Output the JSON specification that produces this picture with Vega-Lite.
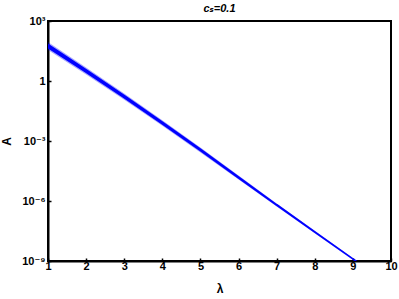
{
  "$schema": "https://vega.github.io/schema/vega-lite/v6.json",
  "autosize": {"type": "none"},
  "padding": {"left": 48, "top": 21, "right": 8, "bottom": 38},
  "width": 343,
  "height": 240,
  "background": "white",
  "title": {
    "text": "cₛ=0.1",
    "font": "Liberation Sans, DejaVu Sans",
    "fontSize": 11,
    "fontWeight": "bold",
    "fontStyle": "italic",
    "color": "black",
    "anchor": "middle",
    "offset": 2,
    "dy": 1
  },
  "config": {
    "view": {"stroke": "black", "strokeWidth": 2},
    "axis": {
      "labelFont": "Liberation Sans, DejaVu Sans",
      "labelFontWeight": "bold",
      "labelFontSize": 11,
      "labelColor": "black",
      "titleFont": "Liberation Sans, DejaVu Sans",
      "titleFontWeight": "bold",
      "titleFontSize": 12,
      "titleColor": "black",
      "domainColor": "black",
      "domainWidth": 2,
      "tickColor": "black",
      "tickSize": -3,
      "tickWidth": 1.5,
      "grid": false
    }
  },
  "data": {
    "values": [
      {"lam": 1, "A": 56.2, "hi": 89.1, "lo": 35.5},
      {"lam": 2, "A": 3.16, "hi": 4.79, "lo": 2.09},
      {"lam": 3, "A": 0.166, "hi": 0.24, "lo": 0.115},
      {"lam": 4, "A": 0.00794, "hi": 0.01096, "lo": 0.00575},
      {"lam": 5, "A": 0.000355, "hi": 0.000468, "lo": 0.000269},
      {"lam": 6, "A": 1.51e-5, "hi": 1.905e-5, "lo": 1.202e-5},
      {"lam": 7, "A": 6.31e-7, "hi": 7.59e-7, "lo": 5.25e-7},
      {"lam": 8, "A": 2.82e-8, "hi": 3.24e-8, "lo": 2.45e-8},
      {"lam": 9, "A": 1.26e-9, "hi": 1.41e-9, "lo": 1.12e-9},
      {"lam": 9.08, "A": 1e-9, "hi": 1.1e-9, "lo": 1e-9}
    ]
  },
  "encoding": {
    "x": {
      "field": "lam",
      "type": "quantitative",
      "scale": {"domain": [1, 10], "nice": false},
      "axis": {"values": [1, 2, 3, 4, 5, 6, 7, 8, 9, 10], "title": "λ", "labelPadding": 2, "titlePadding": 12, "labelFlush": false}
    }
  },
  "layer": [
    {
      "mark": {"type": "area", "color": "#0000ff", "opacity": 0.35, "clip": true},
      "encoding": {
        "y": {
          "field": "hi",
          "type": "quantitative",
          "scale": {"type": "log", "domain": [1e-9, 1000], "nice": false},
          "axis": {
            "values": [1e-9, 1e-6, 0.001, 1, 1000],
            "title": "A",
            "labelPadding": 6,
            "titlePadding": 8,
            "labelFlush": false,
            "labelExpr": "datum.value > 999 ? '10³' : datum.value > 0.5 ? '1' : datum.value > 1e-4 ? '10⁻³' : datum.value > 1e-7 ? '10⁻⁶' : '10⁻⁹'"
          }
        },
        "y2": {"field": "lo"}
      }
    },
    {
      "mark": {"type": "trail", "color": "#0000ff", "clip": true},
      "encoding": {
        "y": {"field": "A", "type": "quantitative"},
        "size": {
          "field": "lam",
          "type": "quantitative",
          "scale": {"domain": [1, 9.08], "range": [4, 1.5]},
          "legend": null
        }
      }
    }
  ]
}
